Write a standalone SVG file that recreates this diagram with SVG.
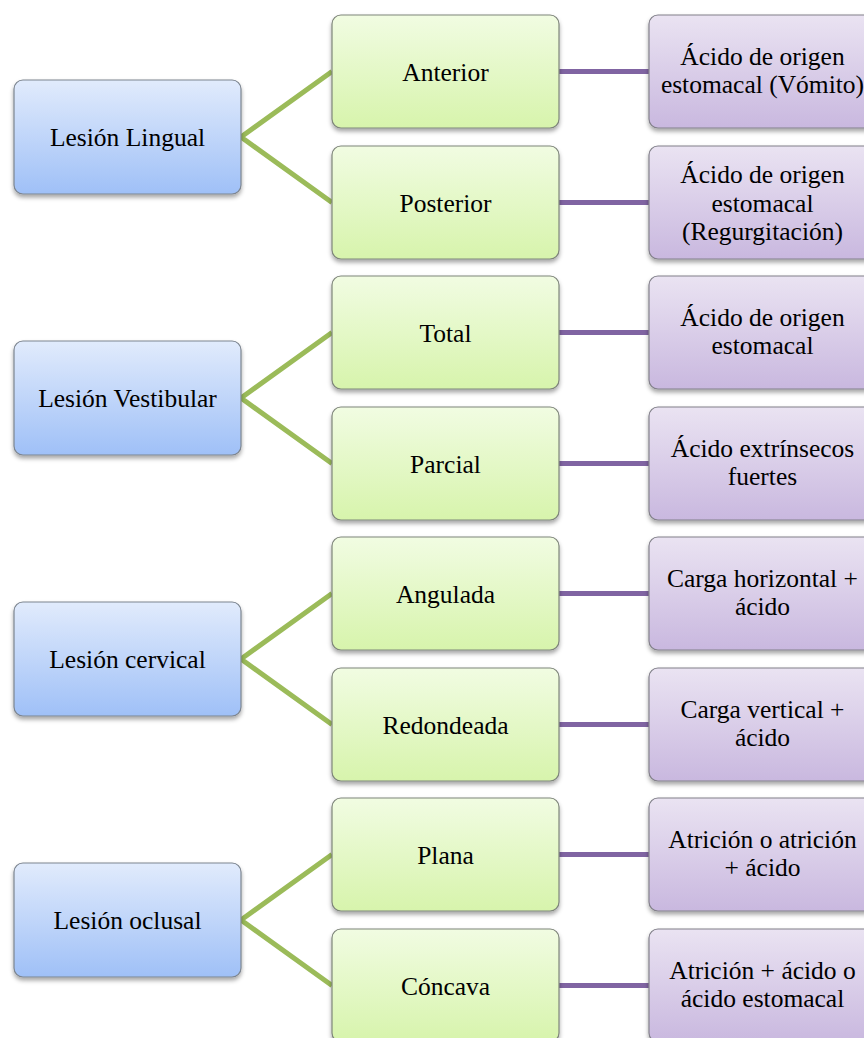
<svg xmlns="http://www.w3.org/2000/svg" width="864" height="1038" viewBox="0 0 864 1038">
<defs>
<linearGradient id="gb" x1="0" y1="0" x2="0" y2="1"><stop offset="0" stop-color="#E1EBFC"/><stop offset="1" stop-color="#9FC0F7"/></linearGradient>
<linearGradient id="gg" x1="0" y1="0" x2="0" y2="1"><stop offset="0" stop-color="#F1FCE2"/><stop offset="1" stop-color="#D7F4AC"/></linearGradient>
<linearGradient id="gp" x1="0" y1="0" x2="0" y2="1"><stop offset="0" stop-color="#EAE3F2"/><stop offset="1" stop-color="#C9B8DF"/></linearGradient>
<filter id="sh" x="-10%" y="-10%" width="120%" height="130%"><feDropShadow dx="0" dy="3" stdDeviation="2.2" flood-color="#000" flood-opacity="0.35"/></filter>
</defs>
<style>
.b{fill:url(#gb);stroke:#7C8590;stroke-width:1.2;filter:url(#sh)}
.g{fill:url(#gg);stroke:#7E857A;stroke-width:1.2;filter:url(#sh)}
.p{fill:url(#gp);stroke:#82808A;stroke-width:1.2;filter:url(#sh)}
text{font-family:"Liberation Serif","Times New Roman",serif;font-size:25.5px;fill:#000;text-anchor:middle}
.cg{stroke:#9BBB59;stroke-width:5;fill:none}
.cp{stroke:#8064A2;stroke-width:5;fill:none}
</style>
<rect width="864" height="1038" fill="#fff"/>
<g id="connectors">
<path class="cg" d="M241 137L332 71.5M241 137L332 202.5"/>
<path class="cg" d="M241 398L332 332.5M241 398L332 463.5"/>
<path class="cg" d="M241 659L332 593.5M241 659L332 724.5"/>
<path class="cg" d="M241 920L332 854.5M241 920L332 985.5"/>
<path class="cp" d="M559 71.5H649M559 202.5H649M559 332.5H649M559 463.5H649M559 593.5H649M559 724.5H649M559 854.5H649M559 985.5H649"/>
</g>
<g id="n_lingual"><rect class="b" x="14" y="80" width="227" height="114" rx="9"/><text x="127.5" y="146">Lesión Lingual</text></g>
<g id="n_vestibular"><rect class="b" x="14" y="341" width="227" height="114" rx="9"/><text x="127.5" y="407">Lesión Vestibular</text></g>
<g id="n_cervical"><rect class="b" x="14" y="602" width="227" height="114" rx="9"/><text x="127.5" y="668">Lesión cervical</text></g>
<g id="n_oclusal"><rect class="b" x="14" y="863" width="227" height="114" rx="9"/><text x="127.5" y="929">Lesión oclusal</text></g>
<g id="n_anterior"><rect class="g" x="332" y="15" width="227" height="113" rx="9"/><text x="445.5" y="80.5">Anterior</text></g>
<g id="n_posterior"><rect class="g" x="332" y="146" width="227" height="113" rx="9"/><text x="445.5" y="211.5">Posterior</text></g>
<g id="n_total"><rect class="g" x="332" y="276" width="227" height="113" rx="9"/><text x="445.5" y="341.5">Total</text></g>
<g id="n_parcial"><rect class="g" x="332" y="407" width="227" height="113" rx="9"/><text x="445.5" y="472.5">Parcial</text></g>
<g id="n_angulada"><rect class="g" x="332" y="537" width="227" height="113" rx="9"/><text x="445.5" y="602.5">Angulada</text></g>
<g id="n_redondeada"><rect class="g" x="332" y="668" width="227" height="113" rx="9"/><text x="445.5" y="733.5">Redondeada</text></g>
<g id="n_plana"><rect class="g" x="332" y="798" width="227" height="113" rx="9"/><text x="445.5" y="863.5">Plana</text></g>
<g id="n_concava"><rect class="g" x="332" y="929" width="227" height="113" rx="9"/><text x="445.5" y="994.5">Cóncava</text></g>
<g id="n_r1"><rect class="p" x="649" y="15" width="227" height="113" rx="9"/><text x="762.5" y="65">Ácido de origen</text><text x="762.5" y="93">estomacal (Vómito)</text></g>
<g id="n_r2"><rect class="p" x="649" y="146" width="227" height="113" rx="9"/><text x="762.5" y="183">Ácido de origen</text><text x="762.5" y="211.5">estomacal</text><text x="762.5" y="240">(Regurgitación)</text></g>
<g id="n_r3"><rect class="p" x="649" y="276" width="227" height="113" rx="9"/><text x="762.5" y="326">Ácido de origen</text><text x="762.5" y="354">estomacal</text></g>
<g id="n_r4"><rect class="p" x="649" y="407" width="227" height="113" rx="9"/><text x="762.5" y="457">Ácido extrínsecos</text><text x="762.5" y="485">fuertes</text></g>
<g id="n_r5"><rect class="p" x="649" y="537" width="227" height="113" rx="9"/><text x="762.5" y="587">Carga horizontal +</text><text x="762.5" y="615">ácido</text></g>
<g id="n_r6"><rect class="p" x="649" y="668" width="227" height="113" rx="9"/><text x="762.5" y="718">Carga vertical +</text><text x="762.5" y="746">ácido</text></g>
<g id="n_r7"><rect class="p" x="649" y="798" width="227" height="113" rx="9"/><text x="762.5" y="848">Atrición o atrición</text><text x="762.5" y="876">+ ácido</text></g>
<g id="n_r8"><rect class="p" x="649" y="929" width="227" height="113" rx="9"/><text x="762.5" y="979">Atrición + ácido o</text><text x="762.5" y="1007">ácido estomacal</text></g>
</svg>
